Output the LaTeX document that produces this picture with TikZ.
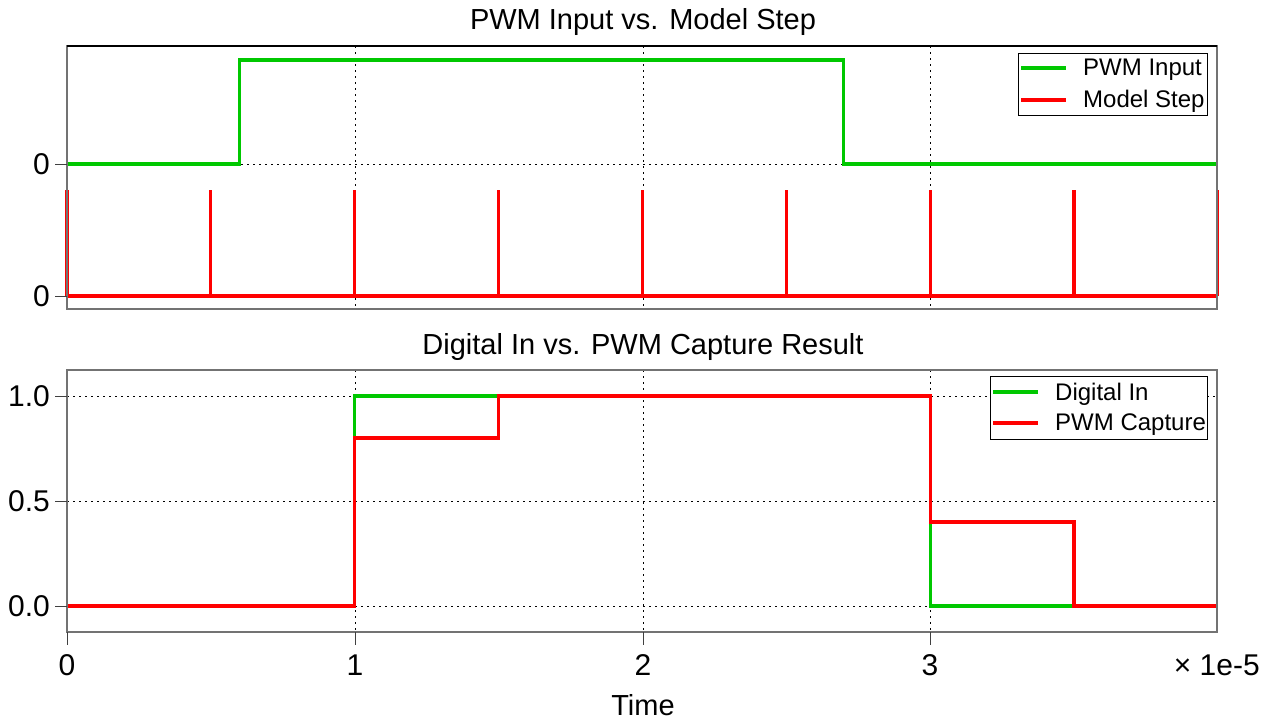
\documentclass[tikz,border=0pt]{standalone}
\usepackage{fontspec}
\setmainfont{Liberation Sans}
\definecolor{pwmgreen}{RGB}{0,200,0}
\definecolor{stepred}{RGB}{255,0,0}
\tikzset{
  plotframe/.style={draw=black!55, line width=1.3pt},
  gridline/.style={black, dash pattern=on 1.5pt off 4.5pt, line width=1pt},
  tickline/.style={black!75, line width=1pt},
  greentrace/.style={pwmgreen, line width=3.2pt, line join=miter},
  redtrace/.style={stepred, line width=3.2pt, line join=miter},
  ticklabel/.style={font=\fontsize{30}{34}\selectfont, inner sep=0pt},
  plottitle/.style={font=\fontsize{29}{34}\selectfont, inner sep=0pt},
  legendbox/.style={draw=black, line width=1pt, fill=white},
  legendtext/.style={font=\fontsize{24}{28}\selectfont, anchor=west, inner sep=0pt}
}
\begin{document}
\begin{tikzpicture}[x=1pt,y=-1pt]
  \useasboundingbox (0,0) rectangle (1271,721);
  % titles
  \node[plottitle] (toptitle) at (643,22) {PWM Input vs. Model Step};
  \node[plottitle] (bottitle) at (643,347) {Digital In vs. PWM Capture Result};
  % grids
  \foreach \gx in {355,643,930} {
    \draw[gridline] (\gx,46) -- (\gx,309);
    \draw[gridline] (\gx,370) -- (\gx,632);
  }
  \draw[gridline] (67,164) -- (1217,164);
  \draw[gridline] (67,296) -- (1217,296);
  \foreach \gy in {396,501,606}
    \draw[gridline] (67,\gy) -- (1217,\gy);
  % top traces: PWM input
  \begin{scope}[shift={(67,164)}, x=287.7pt, y=104pt]
    \draw[greentrace] (0,0) -- (0.6,0) -- (0.6,1) -- (2.7,1) -- (2.7,0) -- (4,0);
  \end{scope}
  % model step pulses
  \begin{scope}[shift={(67,296)}, x=287.7pt, y=106pt]
    \draw[redtrace] (0,0) -- (4,0);
    \foreach \px in {0,0.5,...,4}
      \draw[redtrace] (\px,0) -- (\px,1);
  \end{scope}
  % bottom traces
  \begin{scope}[shift={(67,606)}, x=287.7pt, y=210pt]
    \draw[greentrace] (0,0) -- (1,0) -- (1,1) -- (3,1) -- (3,0) -- (4,0);
    \draw[redtrace] (0,0) -- (1,0) -- (1,0.8) -- (1.5,0.8) -- (1.5,1) -- (3,1)
      -- (3,0.4) -- (3.5,0.4) -- (3.5,0) -- (4,0);
  \end{scope}
  % frames
  \draw[plotframe] (67,46) rectangle (1217,309);
  \draw[black, line width=1.3pt] (67,46) -- (1217,46);
  \draw[plotframe] (67,370) rectangle (1217,632);
  % y ticks
  \foreach \ty/\tl [count=\i] in {164/0,296/0} {
    \draw[tickline] (55,\ty) -- (67,\ty);
    \node[ticklabel, anchor=east] (topy\i) at (50,\ty) {\tl};
  }
  \foreach \ty/\tl [count=\i] in {396/1.0,501/0.5,606/0.0} {
    \draw[tickline] (55,\ty) -- (67,\ty);
    \node[ticklabel, anchor=east] (boty\i) at (50,\ty) {\tl};
  }
  % x ticks
  \foreach \tx/\tl [count=\i] in {67/0,355/1,643/2,930/3} {
    \draw[tickline] (\tx,632) -- (\tx,645);
    \node[ticklabel] (xt\i) at (\tx,665) {\tl};
  }
  \node[ticklabel, anchor=east] (xscale) at (1260,665) {× 1e-5};
  \node[plottitle] (xlabel) at (643,705) {Time};
  % legend, top plot
  \draw[legendbox] (1018,53) rectangle (1207,115);
  \draw[greentrace] (1021,68) -- (1066,68);
  \draw[redtrace] (1021,100) -- (1066,100);
  \node[legendtext] (leginput) at (1083,70) {PWM Input};
  \node[legendtext] (legstep) at (1083,101) {Model Step};
  % legend, bottom plot
  \draw[legendbox] (990,376) rectangle (1207,439);
  \draw[greentrace] (993,392) -- (1038,392);
  \draw[redtrace] (993,423) -- (1038,423);
  \node[legendtext] (legdigital) at (1055,394) {Digital In};
  \node[legendtext] (legcapture) at (1055,425) {PWM Capture};
\end{tikzpicture}
\end{document}
